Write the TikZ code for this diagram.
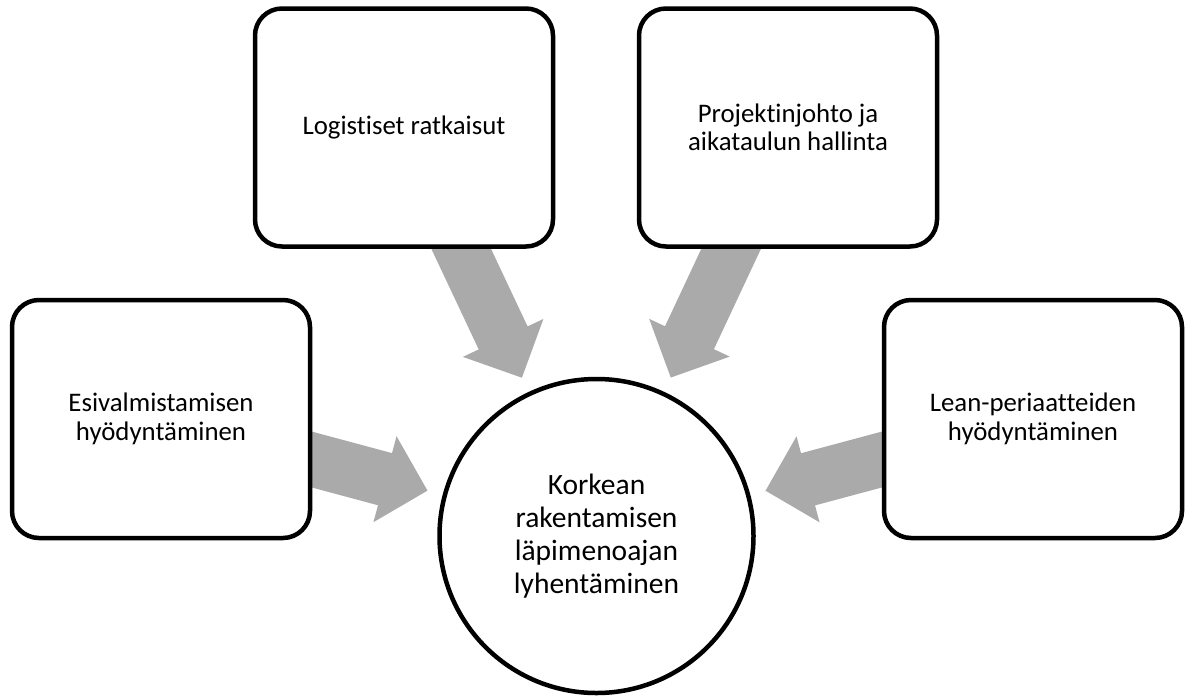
\documentclass[tikz,border=0pt]{standalone}
\usepackage{fontspec}
\setmainfont{Carlito}[Ligatures={NoCommon}]
\usetikzlibrary{calc,backgrounds}
\definecolor{arrowgray}{RGB}{170,170,170}
\newcommand{\blockarrow}[2]{%
  \coordinate (hb) at ($(#2)!44pt!(#1)$);
  \fill[arrowgray] ($(#1)!27pt!90:(#2)$) -- ($(hb)!27pt!-90:(#1)$) -- ($(hb)!44.5pt!-90:(#1)$) -- (#2)
     -- ($(hb)!44.5pt!90:(#1)$) -- ($(hb)!27pt!90:(#1)$) -- ($(#1)!27pt!-90:(#2)$) -- cycle;}
\begin{document}
\begin{tikzpicture}[x=1pt,y=-1pt,
  box/.style={draw=black, line width=4.5pt, fill=white, rounded corners=27pt,
    minimum width=298pt, minimum height=238pt, align=center, inner sep=0pt,
    font=\fontsize{26.8}{28.5}\selectfont},
  hub/.style={draw=black, line width=4.5pt, fill=white, circle, minimum size=314pt,
    align=center, inner sep=0pt, font=\fontsize{29.5}{33}\selectfont}]
\useasboundingbox (0,0) rectangle (1188,697);
\node[hub] (c) at (596.5,536) {Korkean\\rakentamisen\\läpimenoajan\\lyhentäminen};
\node[box] (b1) at (161,419) {Esivalmistamisen\\hyödyntäminen};
\node[box] (b2) at (404,127.5) {Logistiset ratkaisut};
\node[box] (b3) at (788,127.5) {Projektinjohto ja\\aikataulun hallinta};
\node[box] (b4) at (1033,419) {Lean-periaatteiden\\hyödyntäminen};
\coordinate (e1) at ($(c.center)!175pt!(b1.center)$);
\coordinate (e2) at ($(c.center)!175pt!(b2.center)$);
\coordinate (e3) at ($(c.center)!175pt!(b3.center)$);
\coordinate (e4) at ($(c.center)!175pt!(b4.center)$);
\begin{scope}[on background layer]
  \blockarrow{b1.center}{e1}
  \blockarrow{b2.center}{e2}
  \blockarrow{b3.center}{e3}
  \blockarrow{b4.center}{e4}
\end{scope}
\end{tikzpicture}
\end{document}
